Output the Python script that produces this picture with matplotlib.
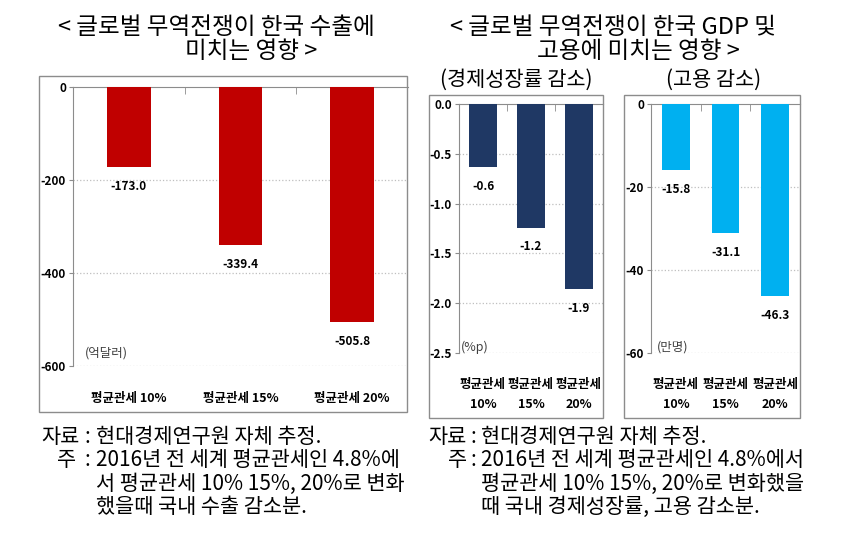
import matplotlib
matplotlib.use('Agg')
import matplotlib.pyplot as plt
from matplotlib.patches import Rectangle

plt.rcParams['font.family'] = ['Noto Sans CJK KR', 'DejaVu Sans']

# data
export_cats = ['평균관세 10%', '평균관세 15%', '평균관세 20%']
export_vals = [-173.0, -339.4, -505.8]
export_ticks = [0, -200, -400, -600]

narrow_cats = ['평균관세\n10%', '평균관세\n15%', '평균관세\n20%']
growth_vals = [-0.63, -1.24, -1.86]
growth_ticks = [0.0, -0.5, -1.0, -1.5, -2.0, -2.5]
jobs_vals = [-15.8, -31.1, -46.3]
jobs_ticks = [0, -20, -40, -60]

W, H = 842, 533
fig = plt.figure(figsize=(W / 100, H / 100), dpi=100)


def px_axes(x0, y0, x1, y1):
    # pixel box (top-left origin) -> figure axes
    return fig.add_axes([x0 / W, 1 - y1 / H, (x1 - x0) / W, (y1 - y0) / H])


def ftext(x, y, s, **kw):
    fig.text(x / W, 1 - y / H, s, **kw)


def frame(x0, y0, x1, y1):
    fig.add_artist(Rectangle((x0 / W, 1 - y1 / H), (x1 - x0) / W, (y1 - y0) / H,
                             transform=fig.transFigure, fill=False,
                             edgecolor='#8c8c8c', linewidth=1.0))


def bar_panel(ax, cats, vals, ticks, color, width, fmt, unit, tick_fmt, cat_pad):
    x = range(len(cats))
    ax.bar(x, vals, width=width, color=color, zorder=3)
    ax.set_xlim(-0.5, len(cats) - 0.5)
    ax.set_ylim(ticks[-1], ticks[0])
    ax.set_yticks(ticks)
    ax.set_yticklabels([tick_fmt.format(t) for t in ticks], fontsize=8.5, fontweight='bold')
    ax.set_xticks(list(x))
    ax.set_xticklabels(cats, fontsize=9, fontweight='bold', linespacing=1.75)
    ax.set_xticks([i + 0.5 for i in range(len(cats) - 1)], minor=True)
    ax.tick_params(axis='x', which='major', length=0, pad=cat_pad)
    ax.tick_params(axis='x', which='minor', top=True, bottom=False, direction='in',
                   length=5, color='#8c8c8c')
    ax.tick_params(axis='y', length=3, color='#8c8c8c', pad=2)
    for t in ticks[1:]:
        ax.axhline(t, color='#bfbfbf', linestyle=':', linewidth=0.9, zorder=1)
    for s in ['right', 'bottom']:
        ax.spines[s].set_visible(False)
    ax.spines['left'].set_color('#8c8c8c')
    ax.spines['top'].set_color('#8c8c8c')
    for i, v in enumerate(vals):
        ax.annotate(fmt.format(v), (i, v), xytext=(0, -14), textcoords='offset points',
                    ha='center', va='center', fontsize=8.5, fontweight='bold', zorder=4)
    ax.text(0.035, 0.045, unit, transform=ax.transAxes, fontsize=9, color='#404040',
            ha='left', va='center')
    ax.patch.set_alpha(0)


# left panel: exports
frame(39, 76, 407, 412)
ax1 = px_axes(73, 87, 408, 366)
bar_panel(ax1, export_cats, export_vals, export_ticks, '#c00000', 0.39,
          '{:.1f}', '(억달러)', '{:d}', 19)

# middle panel: growth
frame(429, 95, 603, 418)
ax2 = px_axes(459, 104, 603, 353)
bar_panel(ax2, narrow_cats, growth_vals, growth_ticks, '#1f3864', 0.58,
          '{:.1f}', '(%p)', '{:.1f}', 18)
ax2.texts[-1].set_position((0.01, 0.024))

# right panel: jobs
frame(624, 95, 800, 418)
ax3 = px_axes(651, 104, 800, 353)
bar_panel(ax3, narrow_cats, jobs_vals, jobs_ticks, '#00b0f0', 0.56,
          '{:.1f}', '(만명)', '{:d}', 18)
ax3.texts[-1].set_position((0.04, 0.024))

# titles
ftext(58, 28, '< 글로벌 무역전쟁이 한국 수출에', fontsize=17, va='center', ha='left')
ftext(185, 51, '미치는 영향 >', fontsize=17, va='center', ha='left')
ftext(450, 28, '< 글로벌 무역전쟁이 한국 GDP 및', fontsize=17, va='center', ha='left')
ftext(537, 51, '고용에 미치는 영향 >', fontsize=17, va='center', ha='left')
ftext(516, 80, '(경제성장률 감소)', fontsize=15, va='center', ha='center')
ftext(714, 80, '(고용 감소)', fontsize=15, va='center', ha='center')

# footnotes
note_left = ['현대경제연구원 자체 추정.',
             '2016년 전 세계 평균관세인 4.8%에',
             '서 평균관세 10% 15%, 20%로 변화',
             '했을때 국내 수출 감소분.']
note_right = ['현대경제연구원 자체 추정.',
              '2016년 전 세계 평균관세인 4.8%에서',
              '평균관세 10% 15%, 20%로 변화했을',
              '때 국내 경제성장률, 고용 감소분.']
line_y = [437, 460, 484, 507]
for (x_src, x_note, x_colon, x_text), lines in [((41, 57, 85, 96), note_left),
                                                 ((428, 448, 471, 481), note_right)]:
    ftext(x_src, line_y[0], '자료', fontsize=15, va='center')
    ftext(x_note, line_y[1], '주', fontsize=15, va='center')
    ftext(x_colon, line_y[0], ':', fontsize=15, va='center')
    ftext(x_colon, line_y[1], ':', fontsize=15, va='center')
    for y, s in zip(line_y, lines):
        ftext(x_text, y, s, fontsize=15, va='center')

fig.savefig('out.png', dpi=100)
